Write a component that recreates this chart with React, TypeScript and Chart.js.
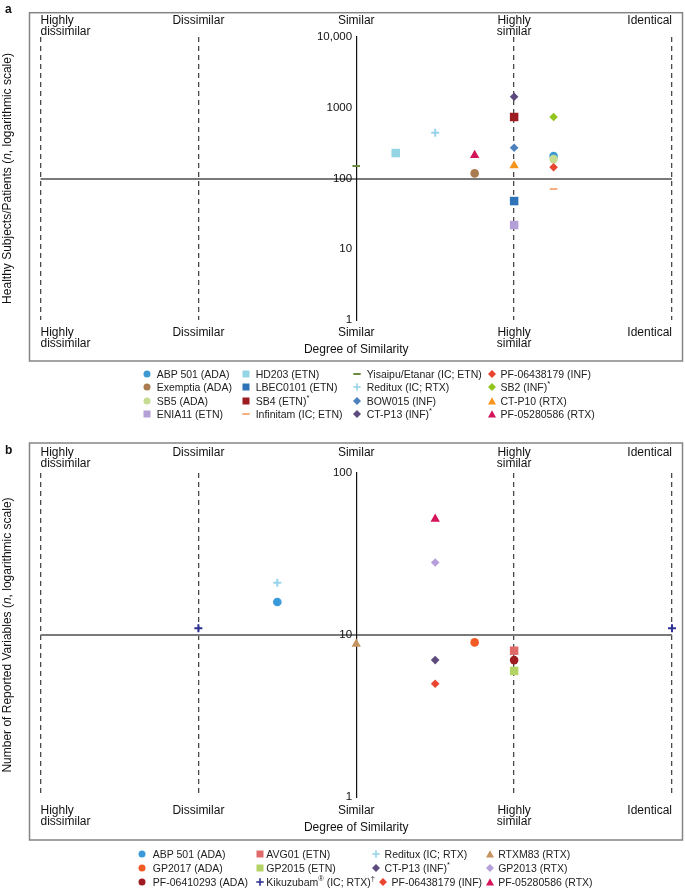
import React, { useEffect, useRef } from 'react';
import { Chart, registerables } from 'chart.js';

Chart.register(...registerables);

const FONT = "'Liberation Sans', Arial, Helvetica, sans-serif";

// ---------- shared x categories ----------
const categoryValues = [0, 1, 2, 3, 4];
const categoryLabels: (string | string[])[] = [
  ['Highly', 'dissimilar'],
  'Dissimilar',
  'Similar',
  ['Highly', 'similar'],
  'Identical',
];
const xAxisTitle = 'Degree of Similarity';

// ---------- panel a ----------
const yTicksA = [1, 10, 100, 1000, 10000];
const yTickLabelsA = ['1', '10', '100', '1000', '10,000'];
const refLineA = 100;
const namesA = [
  'ABP 501 (ADA)', 'Exemptia (ADA)', 'SB5 (ADA)', 'ENIA11 (ETN)',
  'HD203 (ETN)', 'LBEC0101 (ETN)', 'SB4 (ETN)*', 'Infinitam (IC; ETN)',
  'Yisaipu/Etanar (IC; ETN)', 'Reditux (IC; RTX)', 'BOW015 (INF)', 'CT-P13 (INF)*',
  'PF-06438179 (INF)', 'SB2 (INF)*', 'CT-P10 (RTX)', 'PF-05280586 (RTX)',
];
const xA = [
  [3.25], [2.75], [3.25], [3],
  [2.25], [3], [3], [3.25],
  [2], [2.5], [3], [3],
  [3.25], [3.25], [3], [2.75],
];
const yA = [
  [208], [118], [188], [22],
  [229], [48], [740], [71],
  [150], [445], [272], [1430],
  [144], [740], [152], [213],
];
const shapesA = [
  'circle', 'circle', 'circle', 'rect',
  'rect', 'rect', 'rect', 'line',
  'line', 'cross', 'rectRot', 'rectRot',
  'rectRot', 'rectRot', 'triangle', 'triangle',
];
const colorsA = [
  '#3d9ad1', '#a97c4f', '#c6dc92', '#b3a0d6',
  '#93d5e3', '#2e72b8', '#9c1c20', '#f7b07e',
  '#6d8b3a', '#97d3ea', '#4c81bd', '#5d4b7e',
  '#e8442e', '#92c51e', '#f7941d', '#d4145a',
];

// ---------- panel b ----------
const yTicksB = [1, 10, 100];
const yTickLabelsB = ['1', '10', '100'];
const refLineB = 10;
const namesB = [
  'ABP 501 (ADA)', 'GP2017 (ADA)', 'PF-06410293 (ADA)',
  'AVG01 (ETN)', 'GP2015 (ETN)', 'Kikuzubam® (IC; RTX)†',
  'Reditux (IC; RTX)', 'CT-P13 (INF)*', 'PF-06438179 (INF)',
  'RTXM83 (RTX)', 'GP2013 (RTX)', 'PF-05280586 (RTX)',
];
const xB = [
  [1.5], [2.75], [3],
  [3], [3], [1, 4],
  [1.5], [2.5], [2.5],
  [2], [2.5], [2.5],
];
const yB = [
  [16], [9], [7],
  [8], [6], [11, 11],
  [21], [7], [5],
  [8.8], [28], [52],
];
const shapesB = [
  'circle', 'circle', 'circle',
  'rect', 'rect', 'cross',
  'cross', 'rectRot', 'rectRot',
  'triangle', 'rectRot', 'triangle',
];
const colorsB = [
  '#3a9ad9', '#f15a24', '#9e1b20',
  '#e06a6a', '#b3d465', '#2e3192',
  '#97d3ea', '#5d4b7e', '#ea4530',
  '#c59461', '#b7a0da', '#d6145a',
];

// ---------- styling ----------
const radiusFor: Record<string, number> = {
  circle: 4.3, rect: 6, rectRot: 4.3, triangle: 5.4, cross: 4, line: 3.8,
};

interface PanelSpec {
  names: string[]; xs: number[][]; ys: number[][]; shapes: string[]; colors: string[];
  yTicks: number[]; yTickLabels: string[]; refLine: number; yMax: number;
  titleParts: { text: string; italic?: boolean }[];
  letter: string; letterX: number; letterY: number;
  box: number[]; titleX: number;
  padding: { top: number; bottom: number; left: number; right: number };
  topTickPad: number; bottomTickPad: number; titlePadTop: number;
}

const decorPlugin = {
  id: 'decor',
  beforeDraw(chart: any, _args: any, opts: any) {
    const ctx = chart.ctx as CanvasRenderingContext2D;
    ctx.save();
    const [l, t, r, b] = opts.box;
    ctx.strokeStyle = '#858585';
    ctx.lineWidth = 1.5;
    ctx.strokeRect(l, t, r - l, b - t);
    ctx.fillStyle = '#111';
    ctx.font = `bold 12px ${FONT}`;
    ctx.textAlign = 'left';
    ctx.textBaseline = 'alphabetic';
    ctx.fillText(opts.letter, opts.letterX, opts.letterY);
    // rotated y title with italic n
    const ca = chart.chartArea;
    const cy = (ca.top + ca.bottom) / 2;
    ctx.translate(opts.titleX, cy);
    ctx.rotate(-Math.PI / 2);
    ctx.textBaseline = 'middle';
    const parts = opts.titleParts as { text: string; italic?: boolean }[];
    const widths = parts.map((p) => {
      ctx.font = `${p.italic ? 'italic ' : ''}12px ${FONT}`;
      return ctx.measureText(p.text).width;
    });
    const total = widths.reduce((a, w) => a + w, 0);
    let x = -total / 2;
    parts.forEach((p, i) => {
      ctx.font = `${p.italic ? 'italic ' : ''}12px ${FONT}`;
      ctx.fillText(p.text, x, 0);
      x += widths[i];
    });
    ctx.restore();
  },
};

function buildConfig(p: PanelSpec): any {
  const datasets = p.names.map((name, i) => {
    const stroke = p.shapes[i] === 'cross' || p.shapes[i] === 'line';
    return {
      label: name,
      data: p.xs[i].map((x, j) => ({ x, y: p.ys[i][j] })),
      pointStyle: p.shapes[i],
      pointRadius: radiusFor[p.shapes[i]],
      pointHoverRadius: radiusFor[p.shapes[i]],
      pointBackgroundColor: p.colors[i],
      pointBorderColor: p.colors[i],
      pointBorderWidth: stroke ? 2 : 0,
      backgroundColor: p.colors[i],
      borderColor: p.colors[i],
      showLine: false,
      order: -i,
      clip: false,
    };
  });
  const catTick = (v: number) => {
    const k = categoryValues.indexOf(v);
    return k >= 0 ? categoryLabels[k] : '';
  };
  const setCatTicks = (s: any) => {
    s.ticks = categoryValues.map((v) => ({ value: v }));
  };
  const catFont = { family: FONT, size: 12, lineHeight: '11px' };
  return {
    type: 'scatter',
    data: { datasets },
    plugins: [decorPlugin],
    options: {
      animation: false,
      responsive: false,
      devicePixelRatio: 1,
      events: [],
      layout: { padding: p.padding },
      plugins: {
        legend: { display: false },
        tooltip: { enabled: false },
        decor: {
          box: p.box, letter: p.letter, letterX: p.letterX, letterY: p.letterY,
          titleX: p.titleX, titleParts: p.titleParts,
        },
      },
      scales: {
        x: {
          type: 'linear', axis: 'x', position: 'bottom', min: 0, max: 4,
          afterBuildTicks: setCatTicks,
          ticks: {
            callback: (v: number) => catTick(v), align: 'inner', crossAlign: 'near',
            padding: p.bottomTickPad, autoSkip: false, maxRotation: 0, minRotation: 0,
            font: catFont, color: '#111',
          },
          grid: {
            display: true, drawTicks: false, lineWidth: 1.3,
            color: (c: any) => (c.tick && c.tick.value === 2 ? 'rgba(0,0,0,0)' : '#4a4a4a'),
          },
          border: { display: false, dash: [5, 4] },
          title: {
            display: true, text: xAxisTitle, color: '#111',
            font: { family: FONT, size: 12, lineHeight: 1.2 },
            padding: { top: p.titlePadTop, bottom: 0 },
          },
        },
        xTop: {
          type: 'linear', axis: 'x', position: 'top', min: 0, max: 4,
          afterBuildTicks: setCatTicks,
          ticks: {
            callback: (v: number) => catTick(v), align: 'inner', crossAlign: 'far',
            padding: p.topTickPad, autoSkip: false, maxRotation: 0, minRotation: 0,
            font: catFont, color: '#111',
          },
          grid: { display: false, drawTicks: false },
          border: { display: false },
        },
        y: {
          type: 'logarithmic', position: { x: 2 }, min: 1, max: p.yMax,
          afterBuildTicks: (s: any) => {
            s.ticks = p.yTicks.map((v) => ({ value: v }));
          },
          ticks: {
            callback: (v: number) => {
              const k = p.yTicks.indexOf(v);
              return k >= 0 ? p.yTickLabels[k] + ' \u200A' : '';
            },
            autoSkip: false, padding: 0, color: '#111',
            font: { family: FONT, size: 11.5 },
          },
          grid: {
            drawTicks: false, lineWidth: 2,
            color: (c: any) => (c.tick && c.tick.value === p.refLine ? '#7a7a7a' : 'rgba(0,0,0,0)'),
          },
          border: { display: true, color: '#111', width: 1.2 },
        },
      },
    },
  };
}

const panelA: PanelSpec = {
  names: namesA, xs: xA, ys: yA, shapes: shapesA, colors: colorsA,
  yTicks: yTicksA, yTickLabels: yTickLabelsA, refLine: refLineA, yMax: 10000,
  titleParts: [
    { text: 'Healthy Subjects/Patients (' }, { text: 'n', italic: true }, { text: ', logarithmic scale)' },
  ],
  letter: 'a', letterX: 5, letterY: 12.7,
  box: [29.5, 12.7, 682.5, 361], titleX: 7.5,
  padding: { top: 15, bottom: 10.8, left: 40.5, right: 13 },
  topTickPad: 0, bottomTickPad: 7.1, titlePadTop: -13.4,
};

const panelB: PanelSpec = {
  names: namesB, xs: xB, ys: yB, shapes: shapesB, colors: colorsB,
  yTicks: yTicksB, yTickLabels: yTickLabelsB, refLine: refLineB, yMax: 100,
  titleParts: [
    { text: 'Number of Reported Variables (' }, { text: 'n', italic: true }, { text: ', logarithmic scale)' },
  ],
  letter: 'b', letterX: 5, letterY: 23.5,
  box: [29.5, 13, 682.5, 410], titleX: 7.5,
  padding: { top: 13.2, bottom: 15.2, left: 40.5, right: 13 },
  topTickPad: 3.9, bottomTickPad: 7.8, titlePadTop: -14.2,
};

// ---------- legend ----------
function Marker({ shape, color }: { shape: string; color: string }) {
  let el: any = null;
  if (shape === 'circle') el = <circle cx={5} cy={5} r={3.5} fill={color} />;
  else if (shape === 'rect') el = <rect x={1.5} y={1.5} width={7} height={7} fill={color} />;
  else if (shape === 'rectRot') el = <polygon points="5,1 9,5 5,9 1,5" fill={color} />;
  else if (shape === 'triangle') el = <polygon points="5,1.2 9,8.6 1,8.6" fill={color} />;
  else if (shape === 'cross')
    el = (
      <g stroke={color} strokeWidth={1.6}>
        <line x1={5} y1={1.3} x2={5} y2={8.7} />
        <line x1={1.3} y1={5} x2={8.7} y2={5} />
      </g>
    );
  else if (shape === 'line') el = <line x1={1.3} y1={5} x2={8.7} y2={5} stroke={color} strokeWidth={2} />;
  return (
    <svg width={10} height={10} style={{ display: 'block' }}>
      {el}
    </svg>
  );
}

function renderName(name: string) {
  const parts = name.split(/([*®†])/);
  return parts.map((s, i) =>
    /^[*®†]$/.test(s) ? (
      <sup key={i} style={{ fontSize: 7.5, verticalAlign: 'top', lineHeight: '10px', position: 'relative', top: -1 }}>
        {s}
      </sup>
    ) : (
      <span key={i}>{s}</span>
    )
  );
}

function Legend(props: {
  names: string[]; shapes: string[]; colors: string[];
  rowY: number[]; markerX: number[]; textX: number[]; shift?: number[];
}) {
  const { names, shapes, colors, rowY, markerX, textX, shift } = props;
  const nRows = rowY.length;
  return (
    <>
      {names.map((n, i) => {
        const col = Math.floor(i / nRows);
        const row = i % nRows;
        const y = rowY[row];
        const dx = shift ? shift[i] : 0;
        return (
          <React.Fragment key={n}>
            <div style={{ position: 'absolute', left: markerX[col] + dx - 5, top: y - 5, width: 10, height: 10 }}>
              <Marker shape={shapes[i]} color={colors[i]} />
            </div>
            <div
              style={{
                position: 'absolute', left: textX[col] + dx, top: y - 7, height: 14, lineHeight: '14px',
                fontSize: 10.5, color: '#222', whiteSpace: 'nowrap', fontFamily: FONT,
              }}
            >
              {renderName(n)}
            </div>
          </React.Fragment>
        );
      })}
    </>
  );
}

export default function App() {
  const refA = useRef<HTMLCanvasElement | null>(null);
  const refB = useRef<HTMLCanvasElement | null>(null);
  useEffect(() => {
    const ca = new Chart(refA.current as HTMLCanvasElement, buildConfig(panelA));
    const cb = new Chart(refB.current as HTMLCanvasElement, buildConfig(panelB));
    return () => {
      ca.destroy();
      cb.destroy();
    };
  }, []);
  return (
    <div style={{ position: 'absolute', left: 0, top: 0, width: 685, height: 889, background: '#fff', fontFamily: FONT }}>
      <canvas ref={refA} width={685} height={368} style={{ position: 'absolute', left: 0, top: 0, width: 685, height: 368 }} />
      <Legend
        names={namesA} shapes={shapesA} colors={colorsA}
        rowY={[374, 387, 400.5, 413.5]}
        markerX={[147.3, 246, 357.3, 492]}
        textX={[156.7, 255.7, 366.7, 500.5]}
      />
      <canvas ref={refB} width={685} height={420} style={{ position: 'absolute', left: 0, top: 430, width: 685, height: 420 }} />
      <Legend
        names={namesB} shapes={shapesB} colors={colorsB}
        rowY={[854.3, 868.3, 881.7]}
        markerX={[141.8, 259.5, 376, 489.5]}
        textX={[152.8, 266.3, 384.6, 498.2]}
        shift={[0, 0, 0, 0, 0, 0, 0, 0, 7, 0, 0, 0]}
      />
    </div>
  );
}
